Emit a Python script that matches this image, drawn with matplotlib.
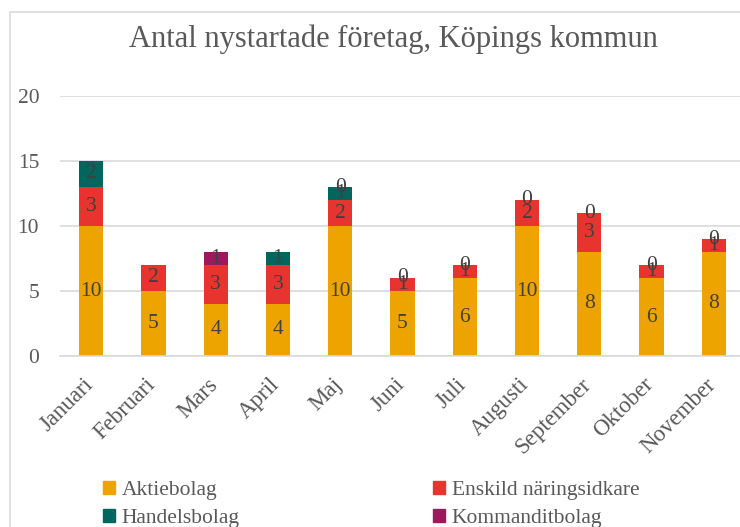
import numpy as np
import matplotlib
matplotlib.use("Agg")
import matplotlib.pyplot as plt
import matplotlib.transforms as mtransforms
from matplotlib.patches import Rectangle, Patch

# --- Data ---
months = ["Januari", "Februari", "Mars", "April", "Maj", "Juni", "Juli",
          "Augusti", "September", "Oktober", "November"]
aktiebolag = [10, 5, 4, 4, 10, 5, 6, 10, 8, 6, 8]
enskild = [3, 2, 3, 3, 2, 1, 1, 2, 3, 1, 1]
handelsbolag = [2, np.nan, np.nan, 1, 1, np.nan, np.nan, np.nan, np.nan, np.nan, np.nan]
kommanditbolag = [np.nan, np.nan, 1, np.nan, 0, 0, 0, 0, 0, 0, 0]

series = [
    ("Aktiebolag", aktiebolag, "#EEA400"),
    ("Enskild näringsidkare", enskild, "#E8342F"),
    ("Handelsbolag", handelsbolag, "#00665E"),
    ("Kommanditbolag", kommanditbolag, "#9C1A5C"),
]

text_col = "#595959"
label_col = "#404040"
grid_col = "#D9D9D9"
plt.rcParams["font.family"] = ["Liberation Serif", "DejaVu Serif"]

fig = plt.figure(figsize=(7.4, 5.27), dpi=100)
ax = fig.add_axes([60 / 740, 171 / 527, 685 / 740, 260 / 527])

x = np.arange(len(months))
bottom = np.zeros(len(months))
containers = []
for name, vals, col in series:
    v = np.array(vals, dtype=float)
    h = np.nan_to_num(v)
    bars = ax.bar(x, h, width=0.39, bottom=bottom, color=col, label=name, zorder=2)
    containers.append((bars, v))
    bottom = bottom + h

for bars, v in containers:
    labels = ["" if np.isnan(val) else f"{val:g}" for val in v]
    ax.bar_label(bars, labels=labels, label_type="center", color=label_col,
                 fontsize=15.5, zorder=3)

ax.set_xlim(-0.5, 10.5)
ax.set_ylim(0, 20)
ax.set_yticks([0, 5, 10, 15, 20])
ax.yaxis.grid(True, color=grid_col, lw=1.2, zorder=0)
ax.set_axisbelow(True)
for s in ["top", "right", "left"]:
    ax.spines[s].set_visible(False)
ax.spines["bottom"].set_color(grid_col)
ax.spines["bottom"].set_linewidth(1.2)
ax.tick_params(axis="y", length=0, pad=15, labelsize=15.5, labelcolor=text_col)
ax.tick_params(axis="x", length=0, pad=13, labelsize=16.5, labelcolor=text_col)
ax.set_xticks(x)
ax.set_xticklabels(months, rotation=45, ha="right", va="top")
shift = mtransforms.ScaledTranslation(6 / 100, 0, fig.dpi_scale_trans)
for lab in ax.get_xticklabels():
    lab.set_transform(lab.get_transform() + shift)

fig.text(393 / 740, 1 - 39 / 527, "Antal nystartade företag, Köpings kommun",
         ha="center", va="center", fontsize=22, color=text_col)

# chart border
fig.add_artist(Rectangle((10 / 740, -0.1), 1.2, 1 - 12 / 527 + 0.1,
                         transform=fig.transFigure, fill=False,
                         edgecolor=grid_col, lw=1.2))

# legend in two columns
handles = [Patch(color=c, label=n) for n, _, c in series]
leg_kw = dict(loc="upper left", frameon=False, fontsize=15.5, handlelength=0.56,
              handleheight=0.56, handletextpad=0.3, labelspacing=0.4,
              borderpad=0, borderaxespad=0, labelcolor=text_col)
fig.legend(handles=[handles[0], handles[2]], bbox_to_anchor=(103 / 740, 1 - 481 / 527),
           **leg_kw)
fig.legend(handles=[handles[1], handles[3]], bbox_to_anchor=(433 / 740, 1 - 481 / 527),
           **leg_kw)

plt.savefig("out.png", dpi=100)
